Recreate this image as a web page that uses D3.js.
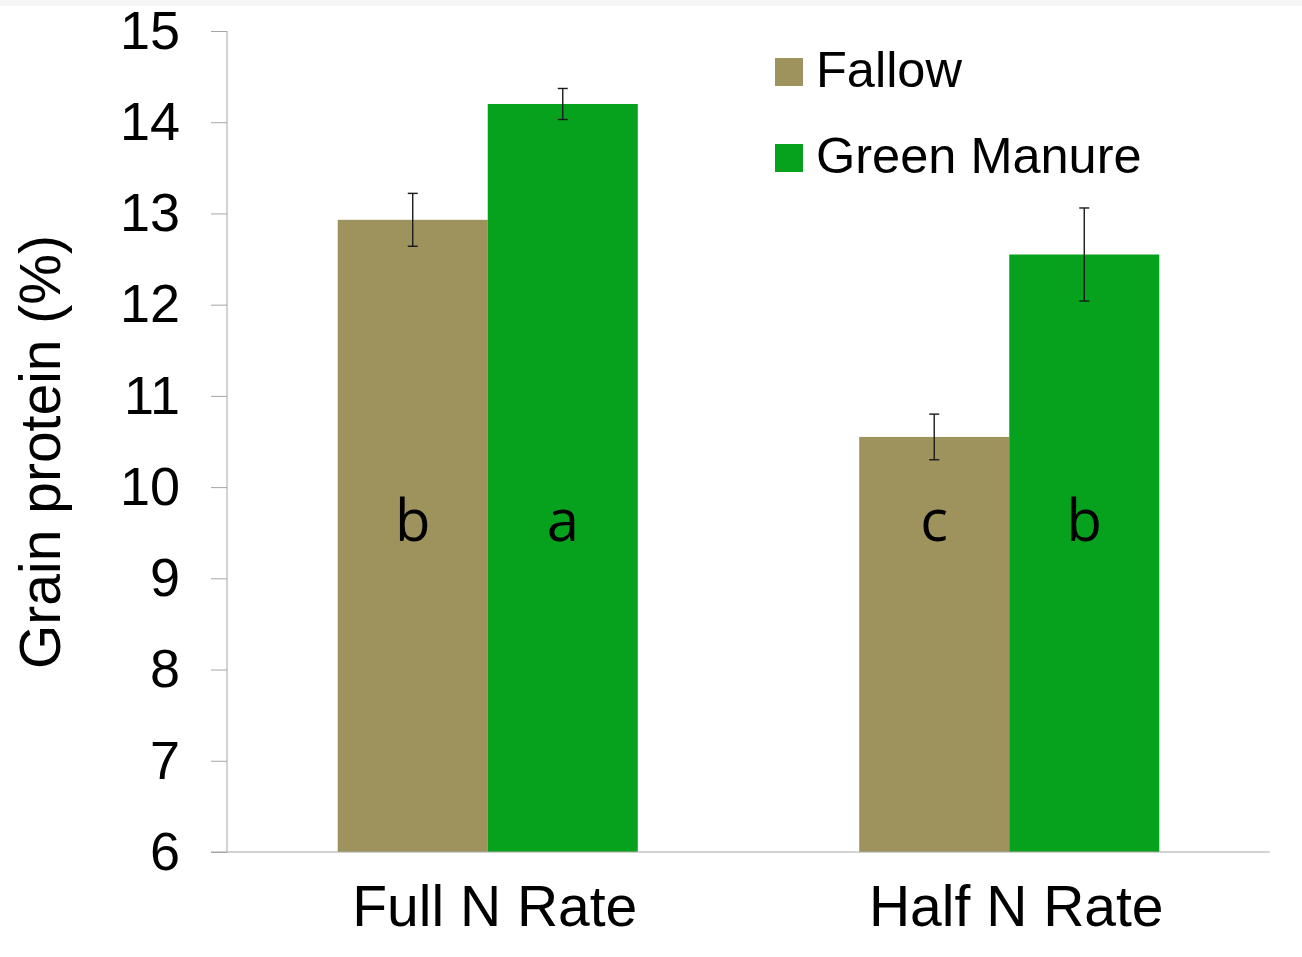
<!DOCTYPE html>
<html>
<head>
<meta charset="utf-8">
<script src="https://cdn.jsdelivr.net/npm/d3@7"></script>
<style>
  html, body { margin: 0; padding: 0; background: #fff; }
  svg { display: block; }
</style>
</head>
<body>
<svg id="chart" width="1302" height="957"></svg>
<script>
// Grain protein by N rate and previous crop
const categories = ["Full N Rate", "Half N Rate"];
const seriesNames = ["Fallow", "Green Manure"];
const fallowValues = [12.93, 10.55];
const greenManureValues = [14.2, 12.55];
const fallowErrors = [0.29, 0.25];
const greenManureErrors = [0.17, 0.51];
const fallowLetters = ["b", "c"];
const greenManureLetters = ["a", "b"];
const yTicks = [6, 7, 8, 9, 10, 11, 12, 13, 14, 15];

const colors = { "Fallow": "#9f935d", "Green Manure": "#06a21e" };

const rows = categories.map((c, i) => ({
  category: c,
  bars: [
    { series: "Fallow", value: fallowValues[i], err: fallowErrors[i], letter: fallowLetters[i] },
    { series: "Green Manure", value: greenManureValues[i], err: greenManureErrors[i], letter: greenManureLetters[i] }
  ]
}));

const svg = d3.select("#chart");
const W = 1302, H = 957;
const plotLeft = 227, plotRight = 1270, plotTop = 31, plotBottom = 852;

// faint band along the top edge
svg.append("rect").attr("x", 0).attr("y", 0).attr("width", W).attr("height", 6).attr("fill", "#f5f5f5");

const y = d3.scaleLinear().domain([6, 15]).range([plotBottom, plotTop]);
const x0 = d3.scaleBand().domain(categories).range([plotLeft, plotRight]).padding(0);
const x1 = d3.scaleBand().domain(seriesNames).range([0, x0.bandwidth()]).paddingInner(0).paddingOuter(0.738);

// bars
const groups = svg.append("g").selectAll("g").data(rows).join("g")
  .attr("transform", d => `translate(${x0(d.category)},0)`);

groups.selectAll("rect").data(d => d.bars).join("rect")
  .attr("x", d => x1(d.series))
  .attr("width", x1.bandwidth())
  .attr("y", d => y(d.value))
  .attr("height", d => y(6) - y(d.value))
  .attr("fill", d => colors[d.series]);

// error bars
const eb = groups.selectAll("g.err").data(d => d.bars).join("g").attr("class", "err")
  .attr("stroke", "#1a1a1a").attr("stroke-width", 1.4);
eb.append("line")
  .attr("x1", d => x1(d.series) + x1.bandwidth() / 2)
  .attr("x2", d => x1(d.series) + x1.bandwidth() / 2)
  .attr("y1", d => y(d.value + d.err))
  .attr("y2", d => y(d.value - d.err));
eb.append("line")
  .attr("x1", d => x1(d.series) + x1.bandwidth() / 2 - 5)
  .attr("x2", d => x1(d.series) + x1.bandwidth() / 2 + 5)
  .attr("y1", d => y(d.value + d.err))
  .attr("y2", d => y(d.value + d.err));
eb.append("line")
  .attr("x1", d => x1(d.series) + x1.bandwidth() / 2 - 5)
  .attr("x2", d => x1(d.series) + x1.bandwidth() / 2 + 5)
  .attr("y1", d => y(d.value - d.err))
  .attr("y2", d => y(d.value - d.err));

// significance letters
groups.selectAll("text.letter").data(d => d.bars).join("text").attr("class", "letter")
  .attr("x", d => x1(d.series) + x1.bandwidth() / 2)
  .attr("y", 541)
  .attr("text-anchor", "middle")
  .attr("font-family", "'Open Sans', sans-serif")
  .attr("font-size", 58)
  .attr("fill", "#000")
  .text(d => d.letter);

// y axis
const yAxis = d3.axisLeft(y).tickValues(yTicks).tickSize(16).tickPadding(31).tickFormat(d3.format("d"));
const gy = svg.append("g").attr("transform", `translate(${plotLeft},0)`).call(yAxis);
gy.select(".domain").attr("stroke", "#a6a6a6").attr("d", `M0,${plotTop}V${plotBottom}`);
gy.selectAll(".tick line").attr("stroke", "#a6a6a6");
gy.selectAll(".tick text")
  .attr("font-family", "'Liberation Sans', Arial, sans-serif")
  .attr("font-size", 54)
  .attr("fill", "#000");

// x axis baseline
const xAxis = d3.axisBottom(x0).tickSize(0).tickPadding(34);
const gx = svg.append("g").attr("transform", `translate(0,${plotBottom})`).call(xAxis);
gx.select(".domain").attr("stroke", "#a6a6a6").attr("d", `M${plotLeft - 16},0H${plotRight}`);
gx.selectAll(".tick text")
  .attr("font-family", "'Liberation Sans', Arial, sans-serif")
  .attr("font-size", 57)
  .attr("fill", "#000")
  .attr("dx", 7)
  .attr("dy", "0.71em");

// y axis title
svg.append("text")
  .attr("transform", `translate(60,452) rotate(-90)`)
  .attr("text-anchor", "middle")
  .attr("font-family", "'Liberation Sans', Arial, sans-serif")
  .attr("font-size", 57)
  .attr("fill", "#000")
  .text("Grain protein (%)");

// legend
const legend = svg.append("g").selectAll("g").data(seriesNames).join("g")
  .attr("transform", (d, i) => `translate(775,${58 + i * 86})`);
legend.append("rect").attr("width", 28).attr("height", 28).attr("fill", d => colors[d]);
legend.append("text")
  .attr("x", 41).attr("y", 29)
  .attr("font-family", "'Liberation Sans', Arial, sans-serif")
  .attr("font-size", 50.5)
  .attr("fill", "#000")
  .text(d => d);
</script>
</body>
</html>
